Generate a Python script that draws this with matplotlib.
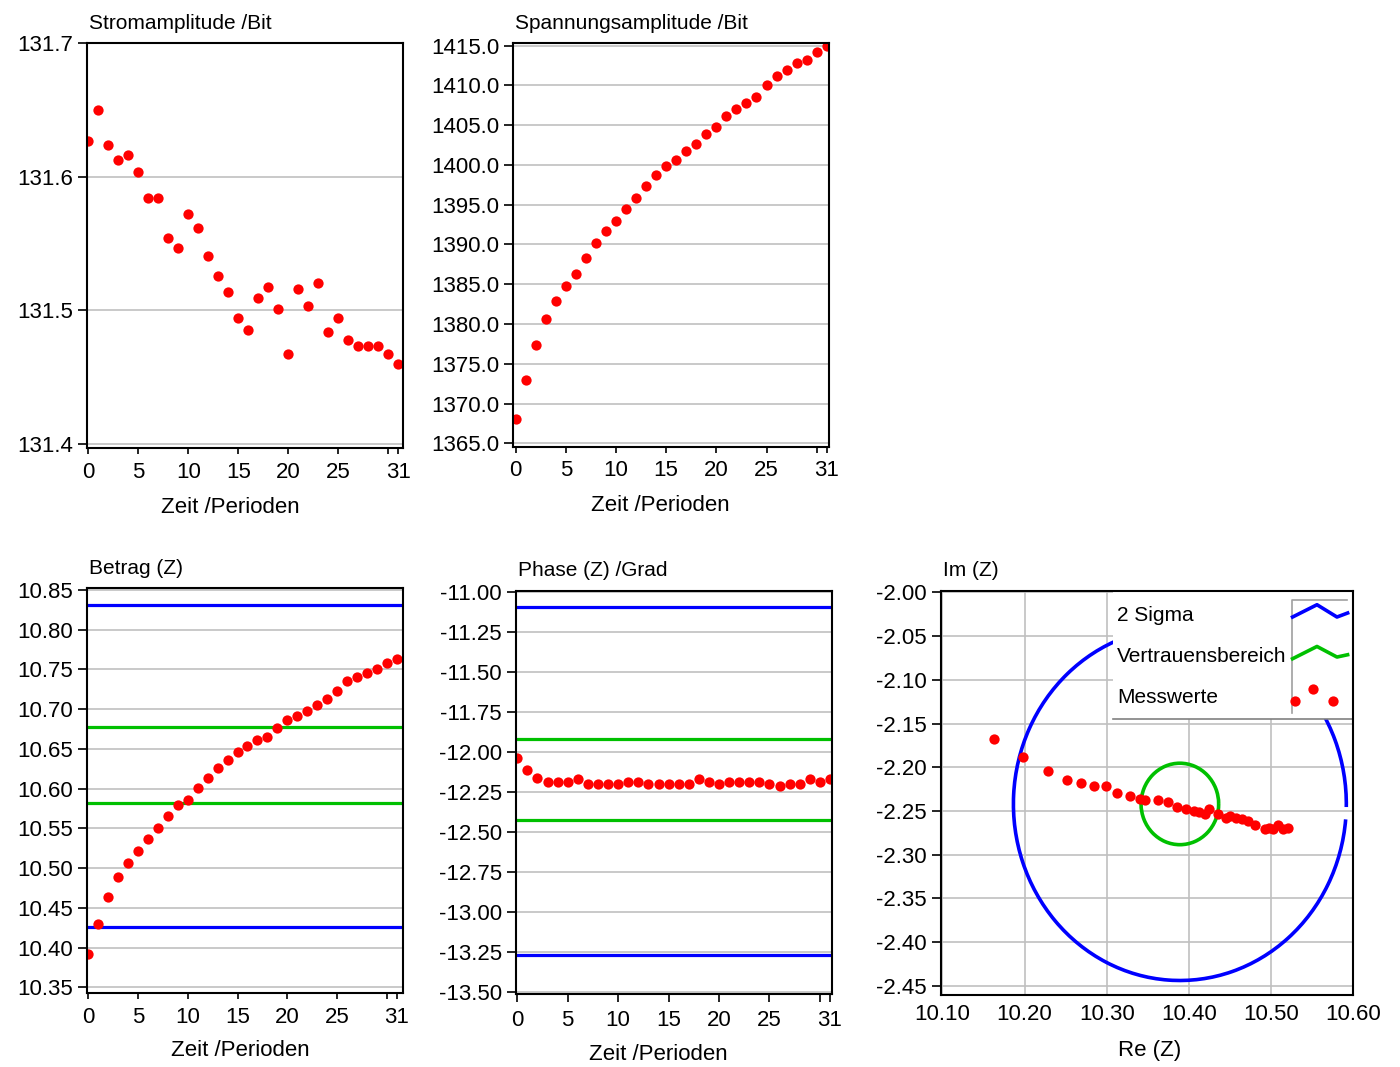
import numpy as np
import matplotlib
matplotlib.use("Agg")
import matplotlib.pyplot as plt
from matplotlib.patches import Arc, Rectangle
from matplotlib.lines import Line2D
from matplotlib.ticker import FixedLocator, FuncFormatter

plt.rcParams['font.family'] = ['Liberation Sans', 'DejaVu Sans']

# ---------------- data ----------------
zeit = list(range(32))

strom = [131.6265, 131.650, 131.6235, 131.613, 131.616, 131.604, 131.584, 131.584,
         131.554, 131.547, 131.572, 131.5615, 131.541, 131.526, 131.514, 131.494,
         131.485, 131.509, 131.5175, 131.501, 131.4675, 131.516, 131.503, 131.5205,
         131.484, 131.494, 131.478, 131.473, 131.473, 131.473, 131.4675, 131.460]

spannung = [1368.0, 1373.0, 1377.4, 1380.6, 1382.9, 1384.8, 1386.3, 1388.3,
            1390.2, 1391.7, 1393.0, 1394.5, 1395.9, 1397.4, 1398.7, 1399.9,
            1400.6, 1401.8, 1402.6, 1403.9, 1404.8, 1406.1, 1407.0, 1407.8,
            1408.5, 1410.0, 1411.2, 1412.0, 1412.8, 1413.2, 1414.2, 1415.0]

betrag = [10.392, 10.430, 10.464, 10.489, 10.506, 10.522, 10.536, 10.551,
          10.566, 10.579, 10.586, 10.601, 10.613, 10.626, 10.636, 10.646,
          10.653, 10.661, 10.665, 10.676, 10.686, 10.691, 10.698, 10.705,
          10.713, 10.723, 10.735, 10.741, 10.745, 10.750, 10.758, 10.763]
betrag_2sigma = [10.426, 10.831]
betrag_vertrauen = [10.582, 10.677]

phase = [-12.04, -12.11, -12.16, -12.19, -12.19, -12.19, -12.17, -12.20,
         -12.20, -12.20, -12.20, -12.185, -12.185, -12.20, -12.20, -12.20,
         -12.20, -12.20, -12.17, -12.185, -12.20, -12.185, -12.185, -12.185,
         -12.185, -12.20, -12.215, -12.20, -12.20, -12.17, -12.185, -12.17]
phase_2sigma = [-13.267, -11.096]
phase_vertrauen = [-12.425, -11.921]

re_z = [10.163, 10.198, 10.229, 10.252, 10.269, 10.285, 10.299, 10.313,
        10.328, 10.340, 10.347, 10.362, 10.374, 10.386, 10.396, 10.406,
        10.412, 10.420, 10.425, 10.435, 10.445, 10.450, 10.457, 10.464,
        10.472, 10.481, 10.492, 10.498, 10.502, 10.508, 10.515, 10.521]
im_z = [-2.168, -2.188, -2.204, -2.215, -2.218, -2.222, -2.221, -2.230,
        -2.233, -2.236, -2.237, -2.237, -2.240, -2.245, -2.248, -2.250,
        -2.251, -2.253, -2.248, -2.253, -2.258, -2.256, -2.258, -2.259,
        -2.261, -2.266, -2.271, -2.270, -2.271, -2.266, -2.271, -2.269]
kreis_mitte = (10.389, -2.242)
kreis_2sigma_radius = (0.2025, 0.2020)
kreis_vertrauen_radius = (0.0472, 0.0466)

time_ticks = [0, 5, 10, 15, 20, 25, 30, 31]
time_ticklabels = ['0', '5', '10', '15', '20', '25', '', '31']

RED = '#ff0000'
BLUE = '#0000ff'
GREEN = '#00c000'
GRID = '#c0c0c0'
FS_TICK = 16
FS_LAB = 16
FS_TITLE = 15
FS_LEG = 15

W, H = 1400, 1067
fig = plt.figure(figsize=(14, 10.67), dpi=100)
fig.patch.set_facecolor('white')


def add_ax(left, top, right, bottom):
    return fig.add_axes([left / W, 1 - bottom / H, (right - left) / W, (bottom - top) / H])


def style(ax, title, xlabel, xlab_pos, ylab_fmt, yticks, xtick_len=4.3, xpad=5.5):
    for s in ax.spines.values():
        s.set_linewidth(1.5)
        s.set_color('black')
        s.set_zorder(10)
    ax.yaxis.set_major_locator(FixedLocator(yticks))
    ax.yaxis.set_major_formatter(FuncFormatter(lambda v, p: ylab_fmt.format(v)))
    ax.tick_params(axis='y', direction='out', length=6.5, width=1.2, pad=3.5, labelsize=FS_TICK)
    ax.tick_params(axis='x', direction='out', length=xtick_len, width=1.2, pad=xpad, labelsize=FS_TICK)
    ax.annotate(title, xy=(0, 1), xycoords='axes fraction', xytext=(1.5, 10.5),
                textcoords='offset points', ha='left', va='baseline', fontsize=FS_TITLE)
    if xlabel:
        ax.set_xlabel(xlabel, fontsize=FS_LAB)
        ax.xaxis.set_label_coords(*xlab_pos)
        ax.xaxis.label.set_verticalalignment('baseline')
    ax.set_axisbelow(True)


def time_axis(ax):
    ax.set_xticks(time_ticks)
    ax.set_xticklabels(time_ticklabels)
    ax.grid(axis='y', color=GRID, lw=1.2)


# ---------- Stromamplitude ----------
ax1 = add_ax(87.3, 43.3, 403.3, 448)
ax1.plot(zeit, strom, 'o', color=RED, ms=7.4, mew=0)
ax1.set_xlim(-0.1, 31.5)
ax1.set_ylim(131.397, 131.7)
time_axis(ax1)
style(ax1, 'Stromamplitude /Bit', 'Zeit /Perioden', (0.454, -0.1606), '{:.1f}',
      [131.4, 131.5, 131.6, 131.7])

# ---------- Spannungsamplitude ----------
ax2 = add_ax(513.3, 43.3, 829.3, 446.7)
ax2.plot(zeit, spannung, 'o', color=RED, ms=7.4, mew=0)
ax2.set_xlim(-0.24, 31.26)
ax2.set_ylim(1364.57, 1415.3)
time_axis(ax2)
style(ax2, 'Spannungsamplitude /Bit', 'Zeit /Perioden', (0.464, -0.1587), '{:.1f}',
      list(np.arange(1365, 1416, 5)))

# ---------- Betrag ----------
ax3 = add_ax(87.3, 588.3, 403.3, 993.3)
for v in betrag_2sigma:
    ax3.axhline(v, color=BLUE, lw=2.3, zorder=2)
for v in betrag_vertrauen:
    ax3.axhline(v, color=GREEN, lw=2.3, zorder=2)
ax3.plot(zeit, betrag, 'o', color=RED, ms=7.4, mew=0, zorder=3)
ax3.set_xlim(-0.1, 31.66)
ax3.set_ylim(10.3425, 10.852)
time_axis(ax3)
style(ax3, 'Betrag (Z)', 'Zeit /Perioden', (0.483, -0.1556), '{:.2f}',
      list(np.round(np.arange(10.35, 10.851, 0.05), 2)))

# ---------- Phase ----------
ax4 = add_ax(515.7, 590.7, 831.7, 994)
for v in phase_2sigma:
    ax4.axhline(v, color=BLUE, lw=2.3, zorder=2)
for v in phase_vertrauen:
    ax4.axhline(v, color=GREEN, lw=2.3, zorder=2)
ax4.plot(zeit, phase, 'o', color=RED, ms=7.4, mew=0, zorder=3)
ax4.set_xlim(-0.16, 31.17)
ax4.set_ylim(-13.511, -10.994)
time_axis(ax4)
style(ax4, 'Phase (Z) /Grad', 'Zeit /Perioden', (0.450, -0.1637), '{:.2f}',
      list(np.round(np.arange(-13.5, -10.99, 0.25), 2)), xtick_len=5.8, xpad=5.5)

# ---------- Ortskurve ----------
ax5 = add_ax(941, 590.7, 1353.3, 995)
ax5.add_patch(Arc(kreis_mitte, 2 * kreis_2sigma_radius[0], 2 * kreis_2sigma_radius[1],
                  theta1=-1, theta2=355, color=BLUE, lw=2.6, zorder=2))
ax5.add_patch(Arc(kreis_mitte, 2 * kreis_vertrauen_radius[0], 2 * kreis_vertrauen_radius[1],
                  theta1=0, theta2=360, color=GREEN, lw=2.6, zorder=2))
ax5.plot(re_z, im_z, 'o', color=RED, ms=7.4, mew=0, zorder=3)
ax5.set_xlim(10.0984, 10.60)
ax5.set_ylim(-2.4606, -1.998)
ax5.set_xticks(list(np.round(np.arange(10.10, 10.601, 0.10), 2)))
ax5.xaxis.set_major_formatter(FuncFormatter(lambda v, p: '{:.2f}'.format(v)))
ax5.grid(True, color=GRID, lw=1.2)
style(ax5, 'Im (Z)', 'Re (Z)', (0.507, -0.150), '{:.2f}',
      list(np.round(np.arange(-2.45, -1.99, 0.05), 2)), xtick_len=0, xpad=6.5)

# legend (labels left, samples right)
T = ax5.transAxes
ax5.add_patch(Rectangle((0.417, 0.683), 0.583, 0.317, transform=T, facecolor='white',
                        edgecolor='none', zorder=5))
ax5.add_line(Line2D([0.417, 1.0], [0.683, 0.683], transform=T, color='#808080', lw=1.2, zorder=6))
ax5.add_line(Line2D([0.852, 0.852, 0.985], [0.698, 0.978, 0.978], transform=T,
                    color='#a0a0a0', lw=1.2, zorder=6))
ax5.text(0.4265, 0.938, '2 Sigma', transform=T, fontsize=FS_LEG, va='center', ha='left', zorder=6)
ax5.text(0.4265, 0.837, 'Vertrauensbereich', transform=T, fontsize=FS_LEG, va='center', ha='left', zorder=6)
ax5.text(0.4265, 0.735, 'Messwerte', transform=T, fontsize=FS_LEG, va='center', ha='left', zorder=6)
ax5.add_line(Line2D([0.8527, 0.9119, 0.9604, 0.9862], [0.9349, 0.9653, 0.9349, 0.9448],
                    transform=T, color=BLUE, lw=2.6, zorder=7))
ax5.add_line(Line2D([0.8527, 0.9119, 0.9604, 0.9862], [0.8317, 0.8621, 0.8359, 0.8416],
                    transform=T, color=GREEN, lw=2.6, zorder=7))
ax5.add_line(Line2D([0.8575, 0.9013, 0.9507], [0.7277, 0.7574, 0.7277],
                    transform=T, color=RED, ls='none', marker='o', ms=7.4, mew=0, zorder=7))

fig.savefig('out.png', dpi=100, facecolor='white')
